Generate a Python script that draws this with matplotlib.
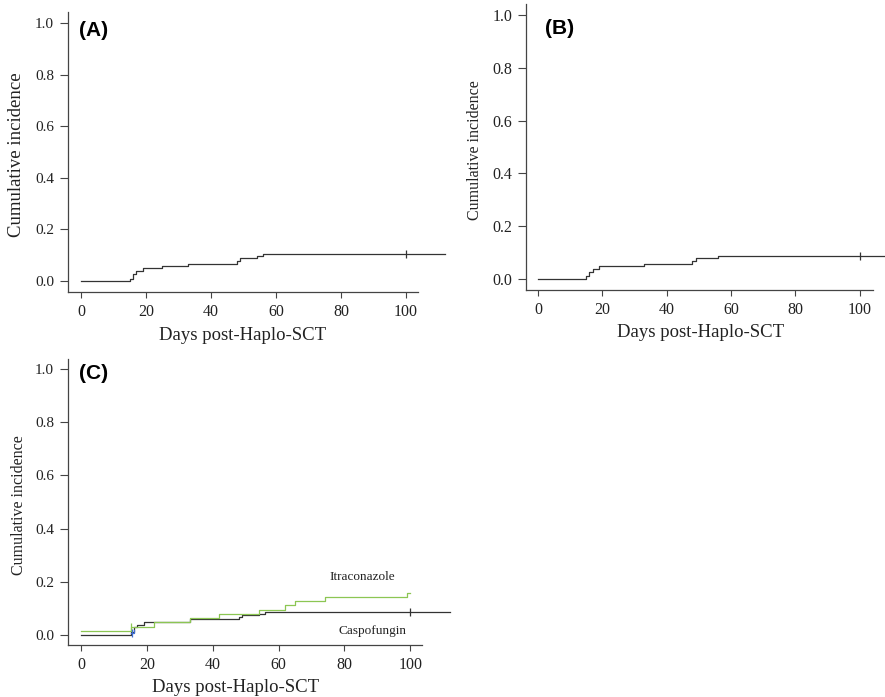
import numpy as np
from matplotlib import pyplot as plt

plt.rcParams['font.family'] = ['Liberation Serif', 'DejaVu Serif']

# step curves (days, cumulative incidence)
t_a = [0, 15, 16, 17, 19, 25, 33, 48, 49, 54, 56, 112]
ci_a = [0, 0.010, 0.029, 0.039, 0.049, 0.059, 0.068, 0.078, 0.088, 0.098, 0.107, 0.107]
cens_a = [100]

t_b = [0, 15, 16, 17, 19, 33, 48, 49, 56, 108]
ci_b = [0, 0.010, 0.026, 0.039, 0.048, 0.058, 0.068, 0.078, 0.087, 0.087]
cens_b = [100]

t_casp = [0, 15, 16, 17, 19, 33, 48, 49, 54, 56, 112]
ci_casp = [0, 0.010, 0.029, 0.039, 0.048, 0.058, 0.068, 0.076, 0.080, 0.087, 0.087]
cens_casp = [100]

t_itra = [0, 15, 22, 33, 42, 54, 62, 65, 74, 99, 100]
ci_itra = [0.016, 0.031, 0.047, 0.063, 0.079, 0.095, 0.111, 0.126, 0.142, 0.158, 0.158]
cens_itra = [15]

t_other = [15, 16]
ci_other = [0.008, 0.020]

xticks = [0, 20, 40, 60, 80, 100]
yticks = [0.0, 0.2, 0.4, 0.6, 0.8, 1.0]

W, H = 885, 697
fig = plt.figure(figsize=(W / 100, H / 100), dpi=100)


def make_ax(left, right, bottom, top, xlim, ylim, xend, ylab_size, ylab_x, xlab_xy, ytl=11):
    ax = fig.add_axes([left / W, 1 - bottom / H, (right - left) / W, (bottom - top) / H])
    ax.set_xlim(xlim)
    ax.set_ylim(ylim)
    ax.spines['top'].set_visible(False)
    ax.spines['right'].set_visible(False)
    ax.spines['bottom'].set_bounds(xlim[0], xend)
    for s in ('left', 'bottom'):
        ax.spines[s].set_color('#444444')
        ax.spines[s].set_linewidth(0.9)
    ax.set_xticks(xticks)
    ax.set_yticks(yticks)
    ax.set_yticklabels(['%.1f' % v for v in yticks])
    ax.tick_params(width=0.8, color='#444444', labelcolor='#222222')
    ax.tick_params(axis='x', length=4.5, labelsize=11.5, pad=4)
    ax.tick_params(axis='y', length=6, labelsize=ytl, pad=4)
    ax.set_ylabel('Cumulative incidence', fontsize=ylab_size, color='#222222')
    ax.yaxis.set_label_coords(ylab_x, 0.49)
    ax.set_xlabel('Days post-Haplo-SCT', fontsize=13.5, color='#222222')
    ax.xaxis.set_label_coords(*xlab_xy)
    return ax


def km(ax, t, ci, cens, color):
    ax.step(t, ci, where='post', color=color, lw=0.9, clip_on=False)
    for c in cens:
        y = ci[np.searchsorted(t, c, side='right') - 1]
        ax.plot(c, y, marker='|', ms=6, mew=0.9, color=color, clip_on=False)


# (A)
ax = make_ax(68, 445, 292, 12, (-4, 112), (-0.042, 1.042), 103.7, 13.5, -0.114, (0.462, -0.125))
km(ax, t_a, ci_a, cens_a, '#333333')
ax.text(-0.6, 0.97, '(A)', family='Liberation Sans', weight='bold', fontsize=15, va='center')

# (B)
ax = make_ax(526, 885, 290, 4, (-3.7, 107.8), (-0.042, 1.042), 104, 11.5, -0.12, (0.485, -0.12),
             ytl=11.5)
km(ax, t_b, ci_b, cens_b, '#333333')
ax.text(2.2, 0.95, '(B)', family='Liberation Sans', weight='bold', fontsize=15, va='center')

# (C)
ax = make_ax(68, 448, 645, 359, (-4, 111.5), (-0.038, 1.038), 103.6, 11.5, -0.108, (0.442, -0.12))
km(ax, t_casp, ci_casp, cens_casp, '#333333')
km(ax, t_itra, ci_itra, cens_itra, '#8cc653')
km(ax, t_other, ci_other, [15.5], '#3f6fd1')
ax.text(-0.6, 0.985, '(C)', family='Liberation Sans', weight='bold', fontsize=15, va='center')
ax.text(85.6, 0.218, 'Itraconazole', fontsize=9.5, ha='center', va='center', color='#222222')
ax.text(88.7, 0.015, 'Caspofungin', fontsize=9.5, ha='center', va='center', color='#222222')

fig.savefig('out.png', dpi=100)
